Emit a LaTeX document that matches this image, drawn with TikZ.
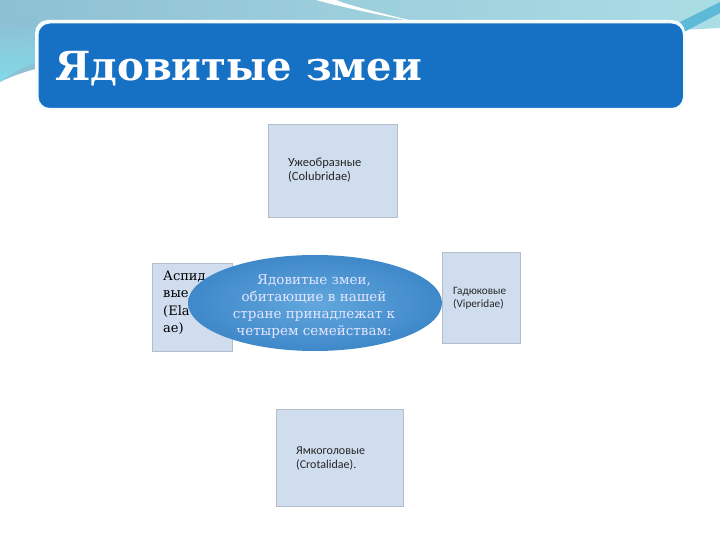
\documentclass[tikz,border=0pt]{standalone}
\usepackage{fontspec}
\setmainfont{DejaVu Serif}
\newfontfamily\titlefont{DejaVu Serif}
\newfontfamily\boxfont{Carlito}
\usetikzlibrary{shapes.geometric}
\definecolor{barblue}{HTML}{1670C4}
\definecolor{boxfill}{HTML}{CFDDEF}
\definecolor{boxline}{HTML}{B4BEC8}
\definecolor{skyA}{HTML}{8EC0D4}
\definecolor{skyB}{HTML}{7FE2EE}
\definecolor{skyC}{HTML}{AADDE4}
\definecolor{stripe}{HTML}{5CBAD6}
\definecolor{ellOut}{HTML}{3F88C9}
\definecolor{ellIn}{HTML}{62A8DE}
\tikzset{
  famBox/.style={draw=boxline, line width=0.8pt, fill=boxfill, anchor=north west, inner sep=0pt},
  smallText/.style={font=\boxfont\fontsize{12.5}{14}\selectfont, align=left, anchor=base west, inner sep=0pt, text=black!85},
}
\begin{document}
\begin{tikzpicture}[x=1pt,y=-1pt]
\useasboundingbox (0,0) rectangle (720,540);
\fill[white] (0,0) rectangle (720,540);
% background sky band
\shade[left color=skyA, right color=skyC] (0,0) -- (720,0) -- (720,28) .. controls (500,40) and (100,30) .. (0,82) -- cycle;
\shade[top color=skyA, bottom color=skyB, opacity=0.8] (0,20) -- (37,20) -- (37,62) .. controls (20,68) .. (0,82) -- cycle;
% white swoosh
\fill[white] (316,0) .. controls (345,8) and (385,16) .. (425,24) .. controls (385,14) and (350,6) .. (336,0) -- cycle;
% dark stripe at right
\fill[stripe] (680,22) -- (720,2) -- (720,13) -- (684,32) -- cycle;
% title bar
\fill[white!90!skyC, rounded corners=13pt] (35,20) rectangle (685,110);
\node[draw=white!85!skyC, line width=1.5pt, fill=barblue, rounded corners=12pt, minimum width=646pt, minimum height=86pt, anchor=north west, inner sep=0pt] (bar) at (37,22) {};
\node[anchor=base west, inner sep=0pt, text=white, font=\titlefont\bfseries\fontsize{40.1}{44}\selectfont] (title) at (55,81) {Ядовитые змеи};
% boxes
\node[famBox, minimum width=129pt, minimum height=93pt] (top) at (268,124) {};
\node[smallText] (topT) at (288,181) {Ужеобразные\\(Colubridae)};
\node[famBox, minimum width=80pt, minimum height=88pt] (left) at (152,263) {};
\node[anchor=north west, inner sep=0pt, align=left, font=\fontsize{13}{17.3}\selectfont] (leftT) at (163,271) {Аспид\\вые\\(Ela\\ae)};
\node[famBox, minimum width=78pt, minimum height=91pt] (right) at (442,252) {};
\node[smallText, font=\boxfont\fontsize{11.2}{13}\selectfont] (rightT) at (453,307) {Гадюковые\\(Viperidae)};
\node[famBox, minimum width=127pt, minimum height=97pt] (bottom) at (276,409) {};
\node[smallText, font=\boxfont\fontsize{12}{13.5}\selectfont] (bottomT) at (296,468) {Ямкоголовые\\(Crotalidae).};
% ellipse
\node[ellipse, minimum width=254pt, minimum height=96pt, inner sep=0pt, inner color=ellIn, outer color=ellOut] (ell) at (315,303) {};
\node[align=center, text=white!90!blue, font=\fontsize{13.5}{17.3}\selectfont, inner sep=0pt] (ellT) at (314,306.5) {Ядовитые змеи,\\обитающие в нашей\\стране принадлежат к\\четырем семействам:};
\end{tikzpicture}
\end{document}
